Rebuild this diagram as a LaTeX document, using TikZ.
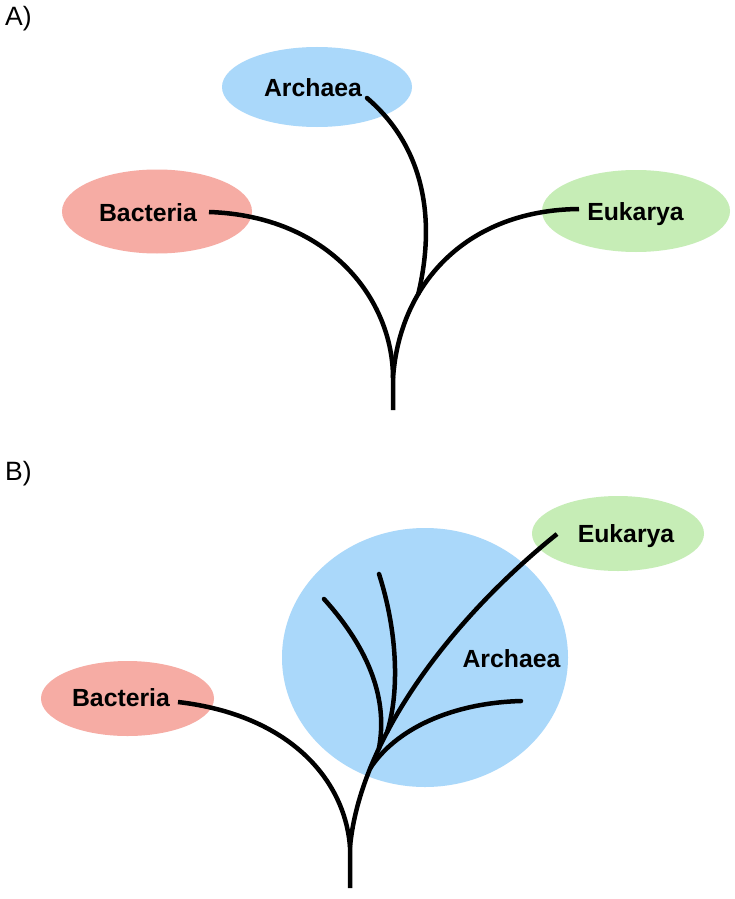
\documentclass[tikz,border=0pt]{standalone}
\usepackage{fontspec}
\setmainfont{Liberation Sans}
\usetikzlibrary{shapes.geometric}
\definecolor{archblue}{RGB}{170,216,250}
\definecolor{bacred}{RGB}{246,172,164}
\definecolor{eukgreen}{RGB}{198,237,182}
\begin{document}
\begin{tikzpicture}[x=1pt,y=-1pt,
  blob/.style={ellipse, inner sep=0pt, draw=none},
  lbl/.style={font=\bfseries\fontsize{24.8}{28}\selectfont, inner sep=0pt, anchor=base, text=black},
  panel/.style={font=\fontsize{26.5}{30}\selectfont, inner sep=0pt, anchor=base west},
  branch/.style={line width=4.5pt, black},
  inner/.style={branch, line cap=round}]
\useasboundingbox (0,0) rectangle (735,899);
\fill[white] (0,0) rectangle (735,899);

% ---------------- Panel A ----------------
\node[panel] (labA) at (5,26) {A)};
\node[blob, fill=archblue, minimum width=190pt, minimum height=80pt] (archA) at (317,87) {};
\node[blob, fill=bacred, minimum width=190pt, minimum height=84pt] (bacA) at (157,211.5) {};
\node[blob, fill=eukgreen, minimum width=188pt, minimum height=82pt] (eukA) at (636,211) {};

\coordinate (rootA) at (393,410);
\coordinate (forkA) at (393,378);
\coordinate (bacAs) at (209,212);
\coordinate (eukAs) at (579,209);
\coordinate (archAs) at (367,98);

\draw[branch] (bacAs) .. controls (330,216) and (393,300) .. (forkA) -- (rootA);
\draw[branch] (eukAs) .. controls (470,210) and (400,280) .. (forkA) coordinate[pos=0.68] (mergeA);
\draw[inner] (archAs) .. controls (422,145) and (437,215) .. (mergeA);

\node[lbl] (archAt) at (313,96) {Archaea};
\node[lbl] (bacAt) at (148,221) {Bacteria};
\node[lbl] (eukAt) at (635.5,220) {Eukarya};

% ---------------- Panel B ----------------
\node[panel] (labB) at (5,480) {B)};
\node[blob, fill=archblue, minimum width=286pt, minimum height=259pt] (archB) at (425,657.5) {};
\node[blob, fill=bacred, minimum width=173pt, minimum height=75pt] (bacB) at (127.5,698.5) {};
\node[blob, fill=eukgreen, minimum width=172pt, minimum height=75pt] (eukB) at (618,533.5) {};

\coordinate (rootB) at (350,888);
\coordinate (forkB) at (350,847);
\coordinate (bacBs) at (178,702);
\coordinate (eukBs) at (557,534);
\coordinate (b1s) at (324,599);
\coordinate (b2s) at (379,574);
\coordinate (b4s) at (521,701);

\draw[branch] (bacBs) .. controls (290,715) and (345,780) .. (forkB) -- (rootB);
\draw[branch] (eukBs) .. controls (450,620) and (360,740) .. (forkB)
   coordinate[pos=0.65] (m2) coordinate[pos=0.7] (m1) coordinate[pos=0.76] (m4);
\draw[inner] (b1s) .. controls (370,650) and (388,700) .. (m1);
\draw[inner] (b2s) .. controls (397,630) and (400,690) .. (m2);
\draw[inner] (b4s) .. controls (450,703) and (395,730) .. (m4);

\node[lbl] (bacBt) at (121,706) {Bacteria};
\node[lbl] (eukBt) at (626,542) {Eukarya};
\node[lbl] (archBt) at (511.5,667) {Archaea};
\end{tikzpicture}
\end{document}
